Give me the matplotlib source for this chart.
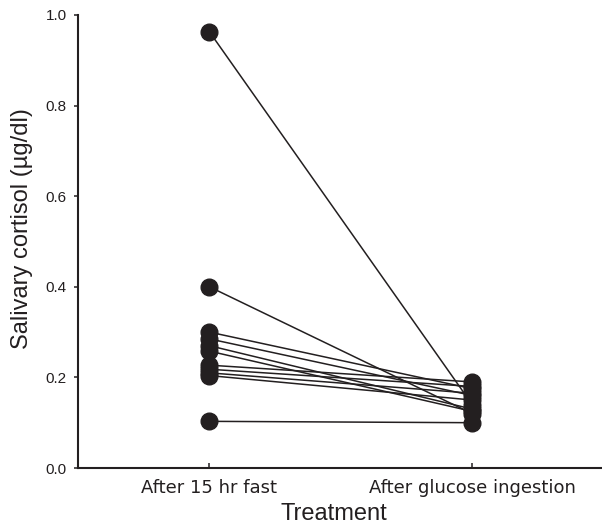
import matplotlib
matplotlib.use('Agg')
import matplotlib.pyplot as plt
import numpy as np

# salivary cortisol (ug/dl) per subject
conditions = ['After 15 hr fast', 'After glucose ingestion']
fast = [0.963, 0.40, 0.30, 0.285, 0.27, 0.258, 0.227, 0.218, 0.21, 0.204, 0.103]
glucose = [0.14, 0.12, 0.175, 0.16, 0.13, 0.125, 0.19, 0.18, 0.165, 0.15, 0.10]
yticks = [0.0, 0.2, 0.4, 0.6, 0.8, 1.0]

ink = '#231f20'
plt.rcParams['font.family'] = ['Liberation Sans', 'DejaVu Sans']

fig = plt.figure(figsize=(6.02, 5.28), dpi=100)
ax = fig.add_axes([78 / 602, 60 / 528, 523 / 602, 453 / 528])

x = np.arange(1, len(conditions) + 1)
for a, b in zip(fast, glucose):
    ax.plot(x, [a, b], '-', color=ink, lw=1.1, marker='o', markersize=12,
            markerfacecolor=ink, markeredgecolor=ink, clip_on=False, zorder=3)

ax.set_xlim(0.5, 2.49)
ax.set_ylim(0, 1.0)
ax.set_xticks(x)
ax.set_xticklabels(conditions, fontsize=13, family='DejaVu Sans', color=ink)
ax.set_yticks(yticks)
ax.set_yticklabels(['{:.1f}'.format(t) for t in yticks], fontsize=11, color=ink)

ax.tick_params(axis='y', direction='out', length=3.2, width=1.1, pad=5, colors=ink)
ax.tick_params(axis='x', direction='in', length=3.5, width=1.1, pad=8, colors=ink)
for lbl in ax.get_xticklabels() + ax.get_yticklabels():
    lbl.set_color(ink)

ax.spines['top'].set_visible(False)
ax.spines['right'].set_visible(False)
for s in ['left', 'bottom']:
    ax.spines[s].set_linewidth(1.5)
    ax.spines[s].set_color(ink)

ax.set_xlabel('Treatment', fontsize=17, color=ink)
ax.xaxis.set_label_coords(0.49, -0.077)
ax.set_ylabel('Salivary cortisol (\u00b5g/dl)', fontsize=17, color=ink)
ax.yaxis.set_label_coords(-0.086, 0.528)

fig.savefig('out.png', dpi=100)
